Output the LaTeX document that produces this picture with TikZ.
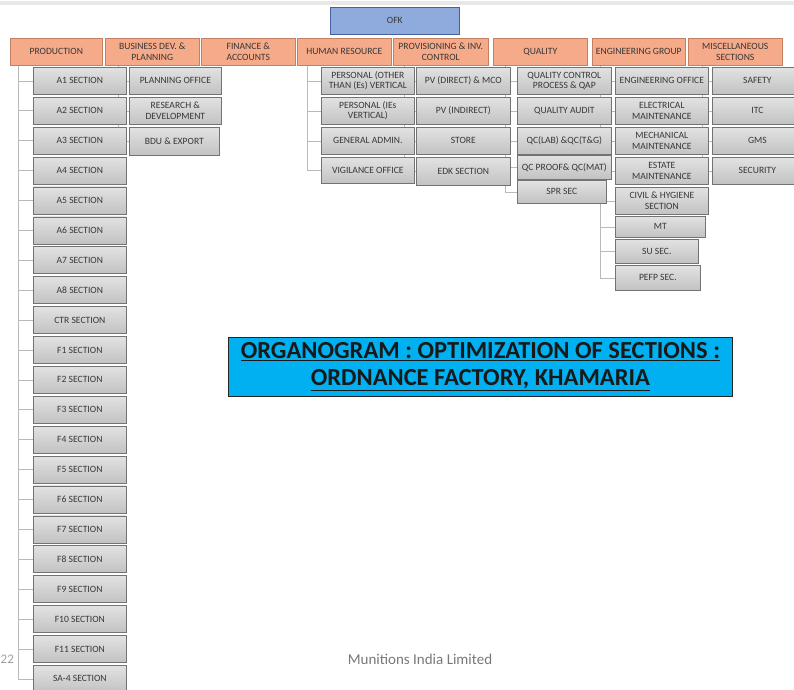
\documentclass[tikz,border=0pt]{standalone}
\usepackage{fontspec}
\setmainfont{Carlito}
\usetikzlibrary{backgrounds}
\definecolor{hdrfill}{RGB}{245,170,138}
\definecolor{hdrline}{RGB}{196,128,98}
\definecolor{ofkfill}{RGB}{143,170,220}
\definecolor{ofkline}{RGB}{68,96,160}
\definecolor{boxtop}{RGB}{226,226,226}
\definecolor{boxbot}{RGB}{194,194,194}
\definecolor{boxline}{RGB}{115,115,115}
\definecolor{txt}{RGB}{55,55,55}
\definecolor{titlefill}{RGB}{0,176,240}
\definecolor{wirecol}{RGB}{185,185,185}
\definecolor{footgray}{RGB}{120,120,120}
\begin{document}
\begin{tikzpicture}[x=1pt,y=-1pt,
  unit/.style={anchor=north west, inner sep=0pt, align=center, text=txt,
    font=\fontsize{9.6}{10.6}\selectfont},
  hdr/.style={unit, fill=hdrfill, draw=hdrline, line width=0.6pt, minimum height=27pt},
  sect/.style={unit, top color=boxtop, bottom color=boxbot, draw=boxline, line width=0.7pt},
  wire/.style={draw=wirecol, line width=0.6pt}]
\clip (0,0) rectangle (794,689);
% slide edge
\fill[gray!18] (0,1) rectangle (794,5);

% top unit
\node[unit, fill=ofkfill, draw=ofkline, line width=0.6pt, minimum width=129pt, minimum height=27pt] (ofk) at (330,7) {OFK};

% group headers
\node[hdr, minimum width=92pt] (prod) at (10,38) {PRODUCTION};
\node[hdr, minimum width=94pt] (bd) at (105,38) {BUSINESS DEV. \&\\PLANNING};
\node[hdr, minimum width=94pt] (fin) at (201,38) {FINANCE \&\\ACCOUNTS};
\node[hdr, minimum width=94pt] (hr) at (297,38) {HUMAN RESOURCE};
\node[hdr, minimum width=95pt] (prov) at (393,38) {PROVISIONING \& INV.\\CONTROL};
\node[hdr, minimum width=94pt] (qual) at (493,38) {QUALITY};
\node[hdr, minimum width=93pt] (eng) at (592,38) {ENGINEERING GROUP};
\node[hdr, minimum width=94pt] (misc) at (688,38) {MISCELLANEOUS\\SECTIONS};

% production sections
\foreach \lab [count=\i from 0] in {A1,A2,A3,A4,A5,A6,A7,A8,CTR,F1,F2,F3,F4,F5,F6,F7,F8,F9,F10,F11,SA-4}
  \node[sect, minimum width=93pt, minimum height=27pt] (p\i) at (33,{67+29.9*\i}) {\lab\ SECTION};

% business development
\node[sect, minimum width=92pt, minimum height=27pt] (bd0) at (129,67) {PLANNING OFFICE};
\node[sect, minimum width=92pt, minimum height=27pt] (bd1) at (129,97) {RESEARCH \&\\DEVELOPMENT};
\node[sect, minimum width=90pt, minimum height=28pt] (bd2) at (129,127) {BDU \& EXPORT};

% human resource
\node[sect, minimum width=93pt, minimum height=27pt] (hr0) at (321,67) {PERSONAL (OTHER\\THAN (Es) VERTICAL};
\node[sect, minimum width=93pt, minimum height=27pt] (hr1) at (321,97) {PERSONAL (IEs\\VERTICAL)};
\node[sect, minimum width=93pt, minimum height=27pt] (hr2) at (321,127) {GENERAL ADMIN.};
\node[sect, minimum width=93pt, minimum height=26pt] (hr3) at (321,157) {VIGILANCE OFFICE};

% provisioning
\node[sect, minimum width=94pt, minimum height=27pt] (pv0) at (416,67) {PV (DIRECT) \& MCO};
\node[sect, minimum width=94pt, minimum height=27pt] (pv1) at (416,97) {PV (INDIRECT)};
\node[sect, minimum width=94pt, minimum height=27pt] (pv2) at (416,127) {STORE};
\node[sect, minimum width=94pt, minimum height=28pt] (pv3) at (416,157) {EDK SECTION};

% quality
\node[sect, minimum width=94pt, minimum height=27pt] (q0) at (517,67) {QUALITY CONTROL\\PROCESS \& QAP};
\node[sect, minimum width=94pt, minimum height=27pt] (q1) at (517,97) {QUALITY AUDIT};
\node[sect, minimum width=94pt, minimum height=27pt] (q2) at (517,127) {QC(LAB) \&QC(T\&G)};
\node[sect, minimum width=94pt, minimum height=24pt] (q3) at (517,155) {QC PROOF\& QC(MAT)};
\node[sect, minimum width=89pt, minimum height=23pt] (q4) at (517,180) {SPR SEC};

% engineering
\node[sect, minimum width=93pt, minimum height=27pt] (e0) at (615,67) {ENGINEERING OFFICE};
\node[sect, minimum width=93pt, minimum height=27pt] (e1) at (615,97) {ELECTRICAL\\MAINTENANCE};
\node[sect, minimum width=93pt, minimum height=27pt] (e2) at (615,127) {MECHANICAL\\MAINTENANCE};
\node[sect, minimum width=93pt, minimum height=27pt] (e3) at (615,157) {ESTATE\\MAINTENANCE};
\node[sect, minimum width=93pt, minimum height=27pt] (e4) at (615,187) {CIVIL \& HYGIENE\\SECTION};
\node[sect, minimum width=90pt, minimum height=21pt] (e5) at (615,216) {MT};
\node[sect, minimum width=83pt, minimum height=24pt] (e6) at (615,239) {SU SEC.};
\node[sect, minimum width=85pt, minimum height=25pt] (e7) at (615,265) {PEFP SEC.};

% miscellaneous
\node[sect, minimum width=90pt, minimum height=27pt] (m0) at (712,67) {SAFETY};
\node[sect, minimum width=90pt, minimum height=27pt] (m1) at (712,97) {ITC};
\node[sect, minimum width=90pt, minimum height=27pt] (m2) at (712,127) {GMS};
\node[sect, minimum width=90pt, minimum height=27pt] (m3) at (712,157) {SECURITY};

% title banner
\node[anchor=north west, inner sep=0pt, align=center, fill=titlefill, draw=black!85, line width=0.8pt,
  minimum width=504pt, minimum height=59pt, text=black!90,
  font=\fontsize{24.5}{27}\bfseries\selectfont] (title) at (228,337)
  {\underline{ORGANOGRAM : OPTIMIZATION OF SECTIONS :}\\\underline{ORDNANCE FACTORY, KHAMARIA}};

% footer
\node[text=footgray, font=\fontsize{15}{18}\selectfont, inner sep=0pt] (foot) at (420,659) {Munitions India Limited};
\node[text=footgray!70, font=\fontsize{13}{16}\selectfont, inner sep=0pt, anchor=west] (pageno) at (0.5,659) {22};

% connector buses, kept behind the boxes
\begin{pgfonlayer}{background}
  \coordinate (prodbus) at ([xshift=8pt]prod.south west);
  \coordinate (bdbus) at ([xshift=13pt]bd.south west);
  \coordinate (hrbus) at ([xshift=10pt]hr.south west);
  \coordinate (pvbus) at ([xshift=11pt]prov.south west);
  \coordinate (qbus) at ([xshift=12pt]qual.south west);
  \coordinate (ebus) at ([xshift=8pt]eng.south west);
  \coordinate (mbus) at ([xshift=14pt]misc.south west);
  \draw[wire] (prodbus) |- (p20.west);
  \foreach \i in {0,...,20} \draw[wire] (prodbus |- p\i.west) -- (p\i.west);
  \draw[wire] (bdbus) |- (bd2.west);
  \foreach \i in {0,1,2} \draw[wire] (bdbus |- bd\i.west) -- (bd\i.west);
  \draw[wire] (hrbus) |- (hr3.west);
  \foreach \i in {0,1,2,3} \draw[wire] (hrbus |- hr\i.west) -- (hr\i.west);
  \draw[wire] (pvbus) |- (pv3.west);
  \foreach \i in {0,1,2,3} \draw[wire] (pvbus |- pv\i.west) -- (pv\i.west);
  \draw[wire] (qbus) |- (q4.west);
  \foreach \i in {0,1,2,3,4} \draw[wire] (qbus |- q\i.west) -- (q\i.west);
  \draw[wire] (ebus) |- (e7.west);
  \foreach \i in {0,...,7} \draw[wire] (ebus |- e\i.west) -- (e\i.west);
  \draw[wire] (mbus) |- (m3.west);
  \foreach \i in {0,1,2,3} \draw[wire] (mbus |- m\i.west) -- (m\i.west);
\end{pgfonlayer}
\end{tikzpicture}
\end{document}
